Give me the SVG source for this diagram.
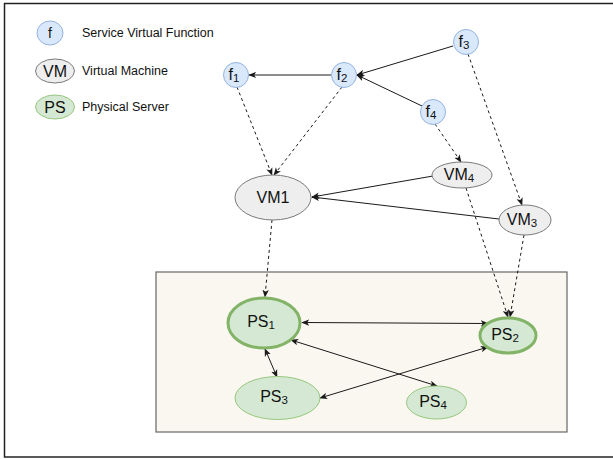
<svg xmlns="http://www.w3.org/2000/svg" width="613" height="460" viewBox="0 0 613 460">
<style>
text{font-family:"Liberation Sans",Arial,sans-serif;fill:#111;}
.lbl{font-size:16px;text-anchor:middle;dominant-baseline:central;}
.leg{font-size:12.5px;dominant-baseline:central;}
.sub{font-size:11.5px;}
.f{fill:#dae8fc;stroke:#94b3e0;stroke-width:1;}
.vm{fill:#eeeeee;stroke:#7a7a7a;stroke-width:1;}
.ps{fill:#d5e8d4;stroke:#97c77e;stroke-width:1;}
.psb{fill:#d5e8d4;stroke:#82b366;stroke-width:3;}
.e{fill:none;stroke:#1a1a1a;stroke-width:1;}
.d{stroke-dasharray:3 3;}
</style>
<defs>
<marker id="ah" viewBox="0 0 10 8" refX="9" refY="4" markerWidth="8" markerHeight="7" markerUnits="userSpaceOnUse" orient="auto-start-reverse">
<path d="M0,0 L10,4 L0,8 L2.5,4 z" fill="#1a1a1a"/>
</marker>
</defs>
<rect x="4.5" y="3.5" width="640" height="453.5" fill="#ffffff" stroke="#222" stroke-width="1.5"/>
<rect x="156" y="272" width="411" height="160" fill="#f9f7ef" stroke="#666" stroke-width="1.2"/>

<g id="legend">
<g id="legend-f"><ellipse class="f" cx="50" cy="33" rx="13" ry="12"/><text class="lbl" x="50" y="33" style="font-size:14px">f</text><text class="leg" x="82" y="33">Service Virtual Function</text></g>
<g id="legend-vm"><ellipse class="vm" cx="55" cy="71" rx="19.5" ry="12"/><text class="lbl" x="55" y="71">VM</text><text class="leg" x="82" y="71">Virtual Machine</text></g>
<g id="legend-ps"><ellipse class="ps" cx="55" cy="107" rx="19.5" ry="12"/><text class="lbl" x="55" y="107">PS</text><text class="leg" x="82" y="107">Physical Server</text></g>
</g>

<g id="connectors">
<line class="e" x1="331" y1="75" x2="249" y2="75" marker-end="url(#ah)"/>
<line class="e" x1="453" y1="46" x2="357" y2="75" marker-end="url(#ah)"/>
<line class="e" x1="422" y1="106" x2="357" y2="75" marker-end="url(#ah)"/>
<line class="e d" x1="237" y1="87" x2="272" y2="175" marker-end="url(#ah)"/>
<line class="e d" x1="342" y1="87" x2="274" y2="175" marker-end="url(#ah)"/>
<line class="e d" x1="435" y1="124" x2="461" y2="162" marker-end="url(#ah)"/>
<line class="e d" x1="468" y1="54" x2="522" y2="205" marker-end="url(#ah)"/>
<line class="e" x1="433" y1="176" x2="312" y2="197" marker-end="url(#ah)"/>
<line class="e" x1="499" y1="219" x2="312" y2="197" marker-end="url(#ah)"/>
<line class="e d" x1="272" y1="220" x2="265" y2="297" marker-end="url(#ah)"/>
<line class="e d" x1="466" y1="188" x2="508" y2="317" marker-end="url(#ah)"/>
<line class="e d" x1="524" y1="235" x2="510" y2="317" marker-end="url(#ah)"/>
<line class="e" x1="302" y1="322.5" x2="488" y2="323.5" marker-start="url(#ah)" marker-end="url(#ah)"/>
<line class="e" x1="291" y1="340" x2="437" y2="386" marker-start="url(#ah)" marker-end="url(#ah)"/>
<line class="e" x1="265" y1="349" x2="277" y2="377" marker-start="url(#ah)" marker-end="url(#ah)"/>
<line class="e" x1="488" y1="347" x2="320" y2="398" marker-start="url(#ah)" marker-end="url(#ah)"/>
</g>

<g id="f1"><circle class="f" cx="236" cy="75" r="12.5"/><text class="lbl" x="234" y="74">f<tspan class="sub" dy="4">1</tspan></text></g>
<g id="f2"><circle class="f" cx="344" cy="75" r="12.5"/><text class="lbl" x="342" y="74">f<tspan class="sub" dy="4">2</tspan></text></g>
<g id="f3"><circle class="f" cx="466" cy="42" r="12.5"/><text class="lbl" x="464" y="41">f<tspan class="sub" dy="4">3</tspan></text></g>
<g id="f4"><circle class="f" cx="433" cy="112" r="12.5"/><text class="lbl" x="431" y="111">f<tspan class="sub" dy="4">4</tspan></text></g>

<g id="VM1"><ellipse class="vm" cx="273" cy="197.5" rx="38" ry="22.5"/><text class="lbl" x="273" y="197.5">VM1</text></g>
<g id="VM4"><ellipse class="vm" cx="462" cy="175" rx="30" ry="13"/><text class="lbl" x="459" y="174">VM<tspan class="sub" dy="4">4</tspan></text></g>
<g id="VM3"><ellipse class="vm" cx="525" cy="220" rx="26" ry="15"/><text class="lbl" x="522" y="219">VM<tspan class="sub" dy="4">3</tspan></text></g>

<g id="PS1"><ellipse class="psb" cx="264" cy="323" rx="36" ry="25"/><text class="lbl" x="261" y="321">PS<tspan class="sub" dy="4">1</tspan></text></g>
<g id="PS2"><ellipse class="psb" cx="508" cy="335.5" rx="28" ry="17.5"/><text class="lbl" x="505" y="334">PS<tspan class="sub" dy="4">2</tspan></text></g>
<g id="PS3"><ellipse class="ps" cx="277.5" cy="398" rx="42.5" ry="21.5"/><text class="lbl" x="274" y="396">PS<tspan class="sub" dy="4">3</tspan></text></g>
<g id="PS4"><ellipse class="ps" cx="436.5" cy="402.5" rx="30" ry="16.5"/><text class="lbl" x="433" y="401">PS<tspan class="sub" dy="4">4</tspan></text></g>
</svg>
